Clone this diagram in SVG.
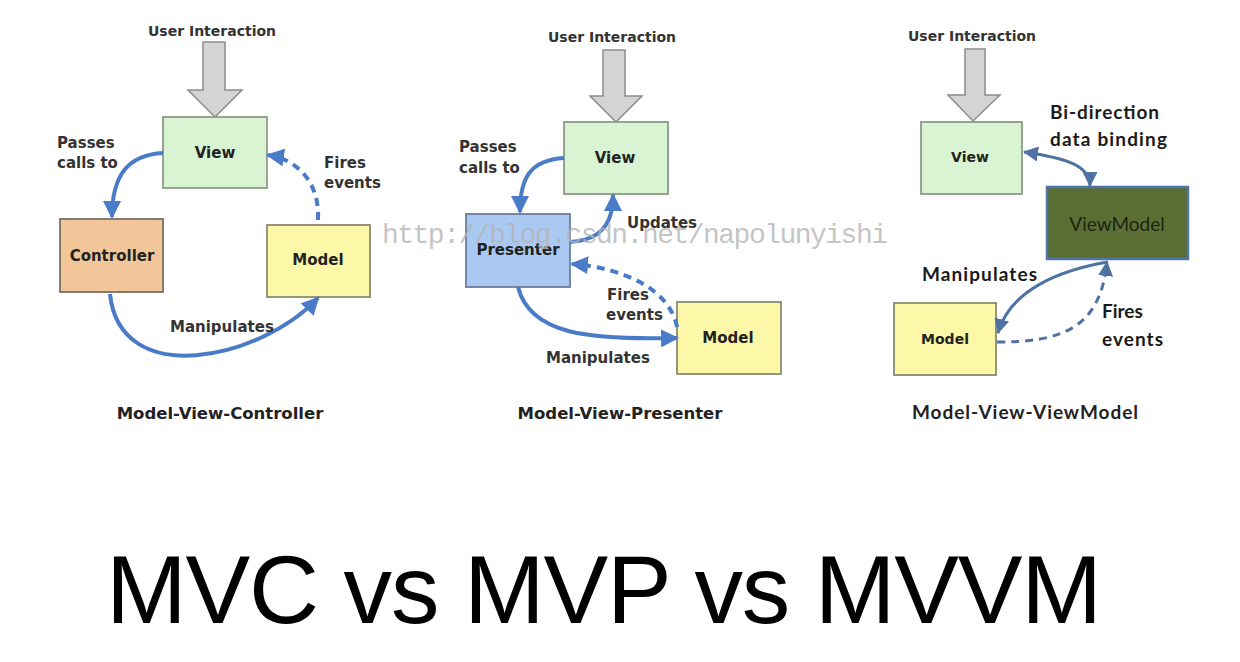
<svg xmlns="http://www.w3.org/2000/svg" width="1240" height="662" viewBox="0 0 1240 662">
<defs>
<style>
.bg{fill:#ffffff}
.ui{font-family:"DejaVu Sans",sans-serif;font-weight:bold;font-size:14px;fill:#333}
.lbl{font-family:"DejaVu Sans",sans-serif;font-weight:bold;font-size:15px;fill:#333}
.ttl{font-family:"DejaVu Sans",sans-serif;font-weight:bold;font-size:16.5px;fill:#222;text-anchor:middle}
.node{font-family:"DejaVu Sans",sans-serif;font-weight:bold;font-size:15px;fill:#222;text-anchor:middle}
.l3{font-family:Lato,"Open Sans",sans-serif;font-weight:bold;font-size:19px;fill:#1a1a1a}
.gray{fill:#d4d4d4;stroke:#8c8c8c;stroke-width:1.5}
.view{fill:#d9f4d2;stroke:#8c9a8a;stroke-width:1.8}
.ctrl{fill:#f3c69a;stroke:#7d6e60;stroke-width:1.8}
.model{fill:#fdf8a8;stroke:#8a8a72;stroke-width:1.8}
.pres{fill:#a9c9f2;stroke:#6a7ea0;stroke-width:1.8}
.vm{fill:#5b6f35;stroke:#4f74a8;stroke-width:2.5}
.c12{fill:none;stroke:#4a7bc8;stroke-width:4}
.c3{fill:none;stroke:#4d72a3;stroke-width:3}
.dash{stroke-dasharray:8 6}
.wm{font-family:"Liberation Mono",monospace;font-size:28px;fill:#b4b4b4;fill-opacity:0.8}
.big{font-family:"Liberation Sans",Arial,sans-serif;font-size:97px;fill:#000}
</style>
<marker id="a12" markerUnits="userSpaceOnUse" markerWidth="18" markerHeight="18" refX="16" refY="9" orient="auto">
<path d="M0,0 L18,9 L0,18 z" fill="#4a7bc8"/>
</marker>
<marker id="a3" markerUnits="userSpaceOnUse" markerWidth="15" markerHeight="15" refX="14" refY="7.5" orient="auto-start-reverse">
<path d="M0,0 L15,7.5 L0,15 z" fill="#4d72a3"/>
</marker>
</defs>
<rect class="bg" x="0" y="0" width="1240" height="662"/>

<!-- Panel 1: MVC -->
<g id="mvc-user">
<text class="ui" x="212" y="36" text-anchor="middle">User Interaction</text>
<polygon class="gray" points="203,42 225,42 225,90 242,90 215,117 188,90 203,90"/>
</g>
<g id="mvc-view"><rect class="view" x="163" y="117" width="104" height="71"/><text class="node" x="215" y="158">View</text></g>
<g id="mvc-controller"><rect class="ctrl" x="60" y="219" width="103" height="73"/><text class="node" x="112" y="261">Controller</text></g>
<g id="mvc-model"><rect class="model" x="267" y="225" width="103" height="72"/><text class="node" x="318" y="265">Model</text></g>

<!-- Panel 2: MVP -->
<g id="mvp-user">
<text class="ui" x="612" y="42" text-anchor="middle">User Interaction</text>
<polygon class="gray" points="603,50 625,50 625,96 642,96 616,122 590,96 603,96"/>
</g>
<g id="mvp-view"><rect class="view" x="564" y="122" width="104" height="72"/><text class="node" x="615" y="163">View</text></g>
<g id="mvp-presenter"><rect class="pres" x="466" y="214" width="104" height="73"/><text class="node" x="518" y="255">Presenter</text></g>
<g id="mvp-model"><rect class="model" x="677" y="302" width="104" height="72"/><text class="node" x="728" y="343">Model</text></g>

<!-- Panel 3: MVVM -->
<g id="mvvm-user">
<text class="ui" x="972" y="41" text-anchor="middle">User Interaction</text>
<polygon class="gray" points="965,49 985,49 985,95 1000,95 973,121 948,95 965,95"/>
</g>
<g id="mvvm-view"><rect class="view" x="921" y="122" width="101" height="72"/><text class="node" x="970" y="162" style="font-size:14px">View</text></g>
<g id="mvvm-viewmodel"><rect class="vm" x="1047" y="187" width="141" height="72"/><text x="1117" y="231" text-anchor="middle" style="font-family:Lato,'Open Sans',sans-serif;font-size:19px;fill:#1c2410">ViewModel</text></g>
<g id="mvvm-model"><rect class="model" x="894" y="303" width="102" height="72"/><text class="node" x="945" y="344" style="font-size:14px">Model</text></g>

<!-- Connectors -->
<g id="connectors">
<path class="c12" d="M163,153 C128,155 112,175 112,217" marker-end="url(#a12)"/>
<path class="c12 dash" d="M318,220 C320,185 300,160 268,155" marker-end="url(#a12)"/>
<path class="c12" d="M110,294 C120,390 260,360 318,298" marker-end="url(#a12)"/>

<path class="c12" d="M564,158 C530,160 520,178 520,212" marker-end="url(#a12)"/>
<path class="c12" d="M570,242 C600,240 613,225 613,195" marker-end="url(#a12)"/>
<path class="c12 dash" d="M677,327 C670,290 625,268 572,264" marker-end="url(#a12)"/>
<path class="c12" d="M518,287 C530,335 590,340 677,338" marker-end="url(#a12)"/>

<path class="c3" d="M1024,152 C1065,158 1090,165 1090,186" marker-start="url(#a3)" marker-end="url(#a3)"/>
<path class="c3" d="M1108,262 C1060,270 1010,290 998,333" marker-end="url(#a3)"/>
<path class="c3 dash" d="M997,342 C1060,342 1100,330 1107,262" marker-end="url(#a3)"/>
</g>

<!-- Labels -->
<g id="labels">
<text class="lbl" x="57" y="148">Passes</text>
<text class="lbl" x="57" y="168">calls to</text>
<text class="lbl" x="324" y="168">Fires</text>
<text class="lbl" x="324" y="188">events</text>
<text class="lbl" x="170" y="332">Manipulates</text>
<text class="ttl" x="220" y="419">Model-View-Controller</text>

<text class="lbl" x="459" y="152">Passes</text>
<text class="lbl" x="459" y="173">calls to</text>
<text class="lbl" x="627" y="228">Updates</text>
<text class="lbl" x="607" y="300">Fires</text>
<text class="lbl" x="606" y="320">events</text>
<text class="lbl" x="546" y="363">Manipulates</text>
<text class="ttl" x="620" y="419">Model-View-Presenter</text>

<text class="l3" x="1050" y="119" textLength="109">Bi-direction</text>
<text class="l3" x="1050" y="146" textLength="117">data binding</text>
<text class="l3" x="922" y="281" textLength="115">Manipulates</text>
<text class="l3" x="1102" y="318">Fires</text>
<text class="l3" x="1102" y="346" textLength="61">events</text>
<text class="ttl" x="1025" y="419" textLength="226" style="font-family:Lato,'Open Sans',sans-serif;font-size:19px;font-weight:bold">Model-View-ViewModel</text>
</g>

<text class="wm" x="382" y="243" textLength="506" lengthAdjust="spacing">http://blog.csdn.net/napolunyishi</text>

<text class="big" x="106" y="623" textLength="996">MVC vs MVP vs MVVM</text>
</svg>
